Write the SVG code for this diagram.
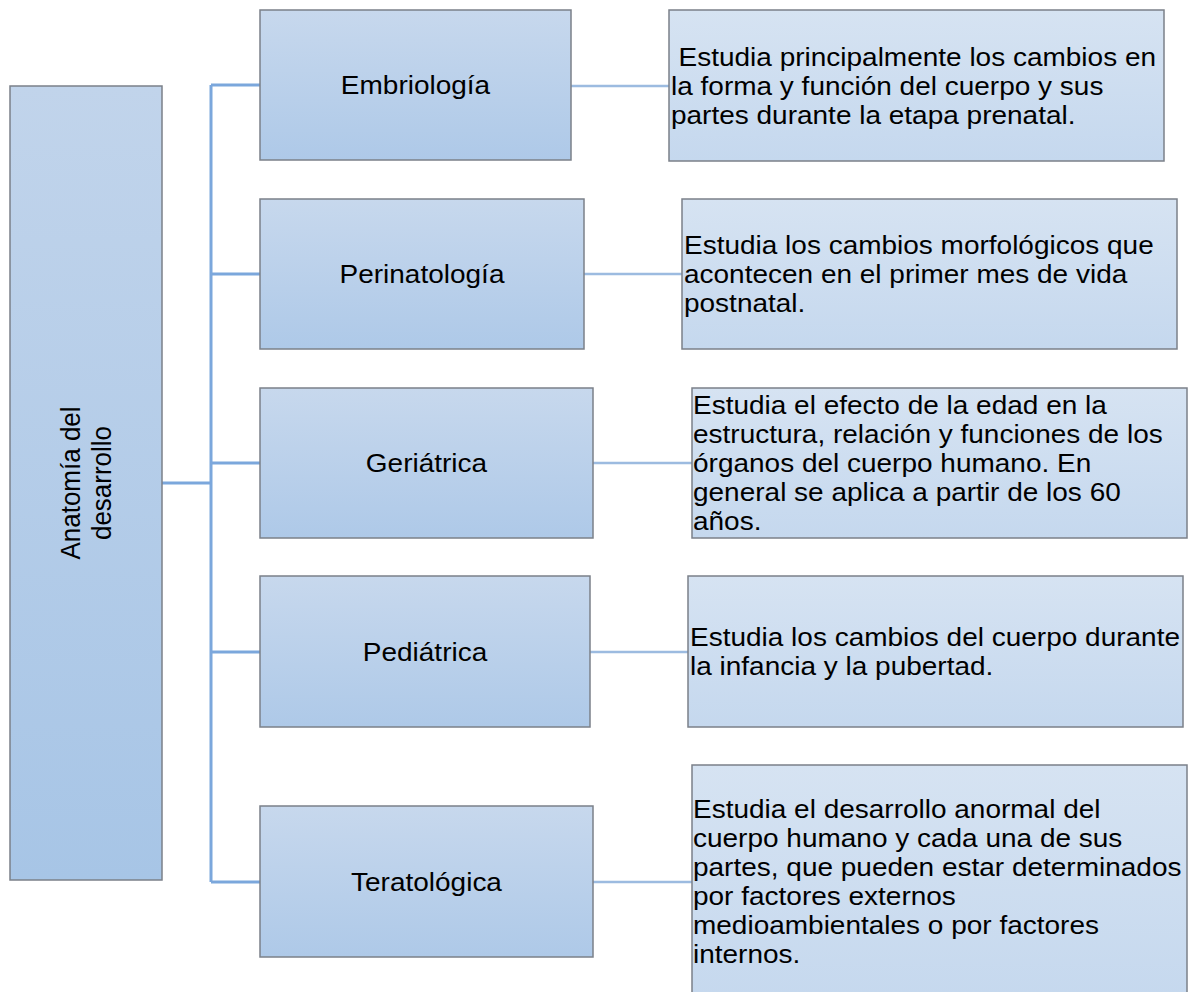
<svg xmlns="http://www.w3.org/2000/svg" width="1191" height="992" viewBox="0 0 1191 992">
<style>
.t{font-family:"Liberation Sans",Arial,sans-serif;font-size:26px;fill:#000}
.c{text-anchor:middle}
.box{stroke:#7b8089;stroke-width:1.5}
.tree{fill:none;stroke:#7ba7dc;stroke-width:3}
.link{fill:none;stroke:#9cbbe0;stroke-width:2.5}
</style>
<defs>
<linearGradient id="gL" x1="0" y1="0" x2="0" y2="1"><stop offset="0" stop-color="#c1d4eb"/><stop offset="1" stop-color="#a7c5e6"/></linearGradient>
<linearGradient id="gM" x1="0" y1="0" x2="0" y2="1"><stop offset="0" stop-color="#c7d8ed"/><stop offset="1" stop-color="#aec9e8"/></linearGradient>
<linearGradient id="gR" x1="0" y1="0" x2="0" y2="1"><stop offset="0" stop-color="#d6e3f2"/><stop offset="1" stop-color="#c5d8ee"/></linearGradient>
</defs>
<g id="connectors">
<path class="tree" d="M162,483H211M211,85V882M211,85H260M211,274H260M211,463H260M211,652H260M211,882H260"/>
<path class="link" d="M571,86H669M584,274H682M593,463H692M590,652H688M593,882H692"/>
</g>
<g id="root">
<rect class="box" x="10" y="86" width="152" height="794" fill="url(#gL)"/>
<g transform="translate(85,483) rotate(-90) scale(1,1.077)">
<text class="t c" x="0" y="-5">Anatomía del</text>
<text class="t c" x="0" y="24">desarrollo</text>
</g>
</g>
<g id="embriologia">
<rect class="box" x="260" y="10" width="311" height="150" fill="url(#gM)"/>
<g transform="translate(415.5,0) scale(1.077,1)"><text class="t c" x="0" y="94">Embriología</text></g>
</g>
<g id="perinatologia">
<rect class="box" x="260" y="199" width="324" height="150" fill="url(#gM)"/>
<g transform="translate(422,0) scale(1.077,1)"><text class="t c" x="0" y="283">Perinatología</text></g>
</g>
<g id="geriatrica">
<rect class="box" x="260" y="388" width="333" height="150" fill="url(#gM)"/>
<g transform="translate(426.5,0) scale(1.077,1)"><text class="t c" x="0" y="472">Geriátrica</text></g>
</g>
<g id="pediatrica">
<rect class="box" x="260" y="576" width="330" height="151" fill="url(#gM)"/>
<g transform="translate(425,0) scale(1.077,1)"><text class="t c" x="0" y="661">Pediátrica</text></g>
</g>
<g id="teratologica">
<rect class="box" x="260" y="806" width="333" height="151" fill="url(#gM)"/>
<g transform="translate(426.5,0) scale(1.077,1)"><text class="t c" x="0" y="891">Teratológica</text></g>
</g>
<g id="desc-embriologia">
<rect class="box" x="669" y="10" width="495" height="151" fill="url(#gR)"/>
<g transform="translate(671,0) scale(1.077,1)">
<text class="t" x="7" y="66">Estudia principalmente los cambios en</text>
<text class="t" x="0" y="95">la forma y función del cuerpo y sus</text>
<text class="t" x="0" y="124">partes durante la etapa prenatal.</text>
</g>
</g>
<g id="desc-perinatologia">
<rect class="box" x="682" y="199" width="495" height="150" fill="url(#gR)"/>
<g transform="translate(684,0) scale(1.077,1)">
<text class="t" x="0" y="254">Estudia los cambios morfológicos que</text>
<text class="t" x="0" y="283">acontecen en el primer mes de vida</text>
<text class="t" x="0" y="312">postnatal.</text>
</g>
</g>
<g id="desc-geriatrica">
<rect class="box" x="692" y="388" width="495" height="150" fill="url(#gR)"/>
<g transform="translate(693,0) scale(1.077,1)">
<text class="t" x="0" y="414">Estudia el efecto de la edad en la</text>
<text class="t" x="0" y="443">estructura, relación y funciones de los</text>
<text class="t" x="0" y="472">órganos del cuerpo humano. En</text>
<text class="t" x="0" y="501">general se aplica a partir de los 60</text>
<text class="t" x="0" y="530">años.</text>
</g>
</g>
<g id="desc-pediatrica">
<rect class="box" x="688" y="576" width="495" height="151" fill="url(#gR)"/>
<g transform="translate(690,0) scale(1.077,1)">
<text class="t" x="0" y="646">Estudia los cambios del cuerpo durante</text>
<text class="t" x="0" y="675">la infancia y la pubertad.</text>
</g>
</g>
<g id="desc-teratologica">
<rect class="box" x="692" y="765" width="495" height="240" fill="url(#gR)"/>
<g transform="translate(693,0) scale(1.077,1)">
<text class="t" x="0" y="818">Estudia el desarrollo anormal del</text>
<text class="t" x="0" y="847">cuerpo humano y cada una de sus</text>
<text class="t" x="0" y="876">partes, que pueden estar determinados</text>
<text class="t" x="0" y="905">por factores externos</text>
<text class="t" x="0" y="934">medioambientales o por factores</text>
<text class="t" x="0" y="963">internos.</text>
</g>
</g>
</svg>
